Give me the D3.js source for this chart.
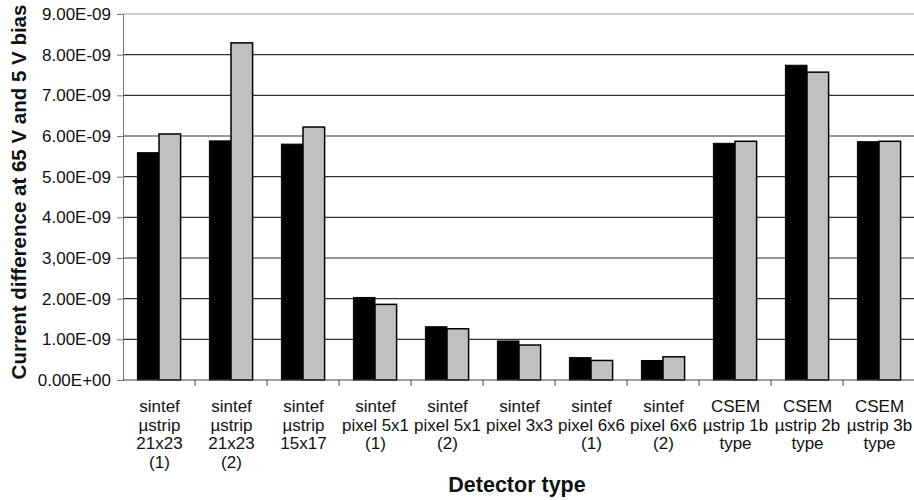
<!DOCTYPE html>
<html><head><meta charset="utf-8">
<script src="https://cdn.jsdelivr.net/npm/d3@7"></script>
<style>body{margin:0;background:#fff}svg{display:block}text{font-family:"Liberation Sans",Arial,sans-serif}</style>
</head><body>
<svg id="c" width="914" height="500"></svg>
<script>
const categories = [
  ["sintef","µstrip","21x23","(1)"],
  ["sintef","µstrip","21x23","(2)"],
  ["sintef","µstrip","15x17"],
  ["sintef","pixel 5x1","(1)"],
  ["sintef","pixel 5x1","(2)"],
  ["sintef","pixel 3x3"],
  ["sintef","pixel 6x6","(1)"],
  ["sintef","pixel 6x6","(2)"],
  ["CSEM","µstrip 1b","type"],
  ["CSEM","µstrip 2b","type"],
  ["CSEM","µstrip 3b","type"]
];
const seriesBlack = [5.59e-9, 5.88e-9, 5.80e-9, 2.03e-9, 1.31e-9, 0.96e-9, 0.55e-9, 0.48e-9, 5.82e-9, 7.74e-9, 5.86e-9];
const seriesGrey  = [6.05e-9, 8.29e-9, 6.22e-9, 1.86e-9, 1.26e-9, 0.86e-9, 0.48e-9, 0.57e-9, 5.87e-9, 7.57e-9, 5.87e-9];
const yTicks = [0, 1e-9, 2e-9, 3e-9, 4e-9, 5e-9, 6e-9, 7e-9, 8e-9, 9e-9];
const yTickLabels = ["0.00E+00","1.00E-09","2.00E-09","3,00E-09","4.00E-09","5.00E-09","6.00E-09","7.00E-09","8.00E-09","9.00E-09"];
const yTitle = "Current difference at 65 V and 5 V bias";
const xTitle = "Detector type";

const svg = d3.select("#c");
const L = 123, R = 915, T = 14, B = 380;
const idx = d3.range(categories.length);
const x = d3.scaleBand().domain(idx).range([L, R]).paddingInner(0.4).paddingOuter(0.2);
const xs = d3.scaleBand().domain([0,1]).range([0, x.bandwidth()]);
const y = d3.scaleLinear().domain([0, 9e-9]).range([B, T]);

// gridlines
svg.append("g").selectAll("line").data(yTicks.slice(1)).join("line")
  .attr("x1", L).attr("x2", R).attr("y1", d => y(d)).attr("y2", d => y(d))
  .attr("stroke", d => d === 9e-9 ? "#999" : "#333").attr("stroke-width", 1.2);

// y axis
const yAxis = d3.axisLeft(y).tickValues(yTicks).tickSize(6).tickPadding(6)
  .tickFormat((d, i) => yTickLabels[i]);
const gy = svg.append("g").attr("transform", `translate(${L},0)`).call(yAxis)
  .attr("font-size", 17).attr("font-family", '"Liberation Sans",Arial,sans-serif');
gy.select(".domain").attr("stroke", "#777");
gy.selectAll(".tick line").attr("stroke", "#777");
gy.selectAll(".tick text").attr("font-size", 17).attr("fill", "#111");

// bars
const grp = svg.append("g").selectAll("g").data(idx).join("g")
  .attr("transform", i => `translate(${x(i)},0)`);
grp.append("rect").attr("x", xs(0)).attr("width", xs.bandwidth())
  .attr("y", i => y(seriesBlack[i])).attr("height", i => B - y(seriesBlack[i]))
  .attr("fill", "#000").attr("stroke", "#000").attr("stroke-width", 1);
grp.append("rect").attr("x", xs(1)).attr("width", xs.bandwidth())
  .attr("y", i => y(seriesGrey[i])).attr("height", i => B - y(seriesGrey[i]))
  .attr("fill", "#c0c0c0").attr("stroke", "#000").attr("stroke-width", 1.5);

// x axis line and ticks at band boundaries
svg.append("line").attr("x1", L).attr("x2", R).attr("y1", B).attr("y2", B).attr("stroke", "#444");
const bounds = d3.range(1, categories.length).map(i => x(i) - x.step() * x.paddingInner() / 2);
svg.append("g").selectAll("line").data(bounds).join("line")
  .attr("x1", d => d).attr("x2", d => d).attr("y1", B).attr("y2", B + 6).attr("stroke", "#444");

// x labels
const xl = svg.append("g").selectAll("text").data(idx).join("text")
  .attr("text-anchor", "middle").style("font-size", "17px").attr("fill", "#111")
  .attr("transform", i => `translate(${x(i) + x.bandwidth()/2 + 0.5},412)`);
xl.selectAll("tspan").data(i => categories[i]).join("tspan")
  .attr("x", 0).attr("dy", (d, j) => j === 0 ? 0 : 18.7).text(d => d);

// titles
svg.append("text").attr("x", 517).attr("y", 492).attr("text-anchor", "middle")
  .style("font-size", "21.5px").attr("font-weight", "bold").attr("fill", "#111").text(xTitle);
svg.append("text").attr("transform", "translate(26,192) rotate(-90)").attr("text-anchor", "middle")
  .style("font-size", "20.5px").attr("font-weight", "bold").attr("fill", "#111").text(yTitle);
</script>
</body></html>
